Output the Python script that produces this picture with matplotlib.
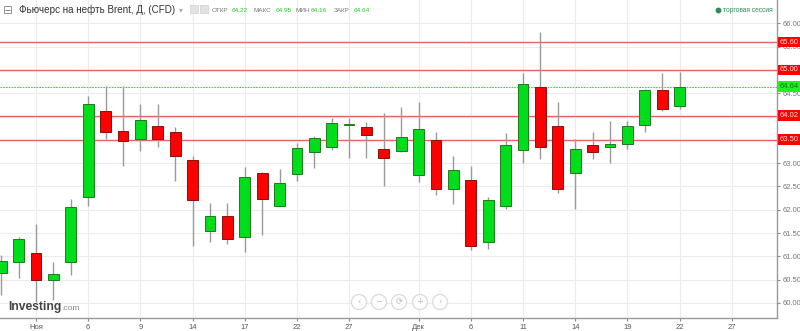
import matplotlib.pyplot as plt
import matplotlib.transforms as mtransforms
from matplotlib.patches import Circle, Rectangle
import numpy as np
import pandas as pd

plt.rcParams['font.family'] = ['Liberation Sans', 'DejaVu Sans']

# daily candles, Oct 30 .. Dec 22 (business days)
dates = pd.bdate_range("2017-10-30", "2017-12-22")
opens = [60.65, 60.87, 61.08, 60.49, 60.87, 62.27, 64.11, 63.69, 63.51, 63.80,
         63.68, 63.07, 61.55, 61.87, 61.41, 62.80, 62.09, 62.77, 63.24, 63.34,
         63.81, 63.78, 63.30, 63.27, 62.74, 63.50, 62.44, 62.64, 61.30, 62.09,
         63.29, 64.64, 63.80, 62.80, 63.38, 63.35, 63.41, 63.83, 64.57, 64.22]
highs = [61.03, 61.41, 61.70, 60.87, 62.23, 64.44, 64.66, 64.66, 64.26, 64.27,
         63.77, 63.16, 62.14, 62.15, 62.91, 62.82, 62.88, 63.44, 63.58, 63.96,
         63.98, 63.89, 64.07, 64.20, 64.32, 63.68, 63.15, 62.94, 62.28, 63.64,
         64.93, 65.82, 64.32, 63.51, 63.68, 63.91, 63.91, 64.59, 64.93, 64.95]
lows = [60.17, 60.54, 60.03, 60.06, 60.60, 62.09, 63.51, 62.95, 63.26, 63.35,
        62.62, 61.23, 61.30, 61.26, 61.09, 61.46, 62.09, 62.62, 62.89, 63.28,
        63.11, 63.11, 62.51, 63.23, 62.59, 62.32, 62.12, 61.14, 61.15, 62.01,
        63.00, 63.08, 62.35, 62.01, 63.08, 63.01, 63.30, 63.68, 64.12, 64.16]
closes = [60.90, 61.37, 60.49, 60.62, 62.07, 64.26, 63.68, 63.48, 63.93, 63.51,
          63.16, 62.21, 61.87, 61.37, 62.71, 62.23, 62.57, 63.32, 63.54, 63.86,
          63.85, 63.61, 63.11, 63.57, 63.73, 62.44, 62.85, 61.22, 62.20, 63.39,
          64.69, 63.34, 62.44, 63.30, 63.23, 63.41, 63.80, 64.56, 64.16, 64.64]

tick_dates = ["2017-11-01", "2017-11-06", "2017-11-09", "2017-11-14", "2017-11-17",
              "2017-11-22", "2017-11-27", "2017-12-01", "2017-12-06", "2017-12-11",
              "2017-12-14", "2017-12-19", "2017-12-22", "2017-12-27"]
tick_labels = ["Ноя", "6", "9", "14", "17", "22", "27", "Дек", "6", "11", "14", "19", "22", "27"]

levels = [65.60, 65.00, 64.02, 63.50]
last_price = 64.64
y_ticks = [60.0, 60.5, 61.0, 61.5, 62.0, 62.5, 63.0, 63.5, 64.0, 64.5, 65.0, 65.5, 66.0]

GREEN = "#00dd1a"
RED = "#ff0000"

fig = plt.figure(figsize=(8.0, 3.31), dpi=100)
ax = fig.add_axes([0.0, 13 / 331, 777 / 800, 1 - 13 / 331])

# x positions: business-day index, Nov 1 = 0
all_days = pd.bdate_range("2017-10-30", "2018-01-05")
x0 = all_days.get_loc(pd.Timestamp("2017-11-01"))
xs = np.array([all_days.get_loc(d) - x0 for d in dates])
tick_x = [all_days.get_loc(pd.Timestamp(d)) - x0 for d in tick_dates]

for x, o, h, l, c in zip(xs, opens, highs, lows, closes):
    col = GREEN if c >= o else RED
    ec = "#1f7a1f" if c >= o else "#8a1010"
    ax.vlines(x, l, h, color="#9a9a9a", lw=1.0, zorder=2)
    body = max(abs(c - o), 0.03)
    ax.add_patch(Rectangle((x - 0.31, min(o, c)), 0.62, body, facecolor=col,
                           edgecolor=ec, lw=0.7, zorder=3))

ax.set_xlim(-2.07, 42.6)
ax.set_ylim(59.678, 66.502)

for v in levels:
    ax.axhline(v, color="#f06060", lw=1.0, zorder=1)
ax.axhline(last_price, color="#33dd33", lw=0.8, ls=(0, (1.5, 1)), zorder=1)

ax.set_xticks(tick_x)
ax.set_xticklabels(tick_labels)
ax.set_yticks(y_ticks)
# labels hidden under the level boxes are left blank
hidden = [any(abs(v - lv) < 0.05 for lv in levels) for v in y_ticks]
ax.set_yticklabels(["" if h else f"{v:.2f}" for v, h in zip(y_ticks, hidden)])
ax.yaxis.tick_right()
ax.grid(True, color="#ececec", lw=0.8, zorder=0)
ax.set_axisbelow(True)
ax.tick_params(axis="y", labelsize=5.5, labelcolor="#777777", color="#888888",
               length=2, pad=2)
ax.tick_params(axis="x", labelsize=5.5, labelcolor="#555555", color="#888888",
               length=2, pad=2)
for s in ["top", "left"]:
    ax.spines[s].set_visible(False)
for s in ["right", "bottom"]:
    ax.spines[s].set_color("#999999")
    ax.spines[s].set_linewidth(1.0)

# price labels on the right axis
trans = mtransforms.blended_transform_factory(ax.transAxes, ax.transData)
for v in levels:
    ax.text(1.004, v, f"{v:.2f}", transform=trans, fontsize=5.5, color="#ffe0e0",
            va="center", ha="left", clip_on=False, zorder=5,
            bbox=dict(boxstyle="square,pad=0.25", fc=RED, ec="none"))
ax.text(1.004, last_price, f"{last_price:.2f}", transform=trans, fontsize=5.5,
        color="#1a6e1a", va="center", ha="left", clip_on=False, zorder=5,
        bbox=dict(boxstyle="square,pad=0.25", fc="#22ee22", ec="none"))

# overlay in pixel coordinates for header, logo and buttons
deco = fig.add_axes([0, 0, 1, 1], facecolor="none")
deco.set_xlim(0, 800)
deco.set_ylim(331, 0)
deco.axis("off")

deco.text(3, 10, "⊟", fontsize=8.5, color="#888888", va="center", ha="left",
          family=["DejaVu Sans"])
deco.text(19, 10, "Фьючерс на нефть Brent, Д, (CFD)", fontsize=7.1, color="#333333",
          va="center", ha="left")
deco.text(179, 10, "▾", fontsize=5.5, color="#aaaaaa", va="center", ha="left",
          family=["DejaVu Sans"])
deco.add_patch(Rectangle((190, 5), 8, 8, fc="#e2e2e2", ec="#d0d0d0", lw=0.5))
deco.add_patch(Rectangle((200, 5), 8, 8, fc="#e2e2e2", ec="#d0d0d0", lw=0.5))
ohlc = [("ОТКР", 212, "#777777"), ("64.22", 232, "#22cc22"),
        ("МАКС", 254, "#777777"), ("64.95", 276, "#22cc22"),
        ("МИН", 296, "#777777"), ("64.16", 311, "#22cc22"),
        ("ЗАКР", 334, "#777777"), ("64.64", 354, "#22cc22")]
for t, xp, c in ohlc:
    deco.text(xp, 10, t, fontsize=4.6, color=c, va="center", ha="left")

deco.plot([718], [10], marker="o", ms=3.2, color="#2e8b57")
deco.text(723, 10, "торговая сессия", fontsize=4.8, color="#2e8b57",
          va="center", ha="left")

deco.text(8, 307, "Investing", fontsize=8.7, weight="bold", color="#444444",
          va="center", ha="left")
deco.text(61, 309, ".com", fontsize=6, color="#888888", va="center", ha="left")

for cx, sym in zip([359, 379, 399, 420, 440], ["‹", "−", "⟳", "+", "›"]):
    deco.add_patch(Circle((cx, 302), 7.5, fc="white", ec="#dddddd", lw=1.0))
    deco.text(cx, 302, sym, fontsize=6, color="#bbbbbb", va="center", ha="center",
              family=["DejaVu Sans"])

fig.savefig("out.png", dpi=100)
